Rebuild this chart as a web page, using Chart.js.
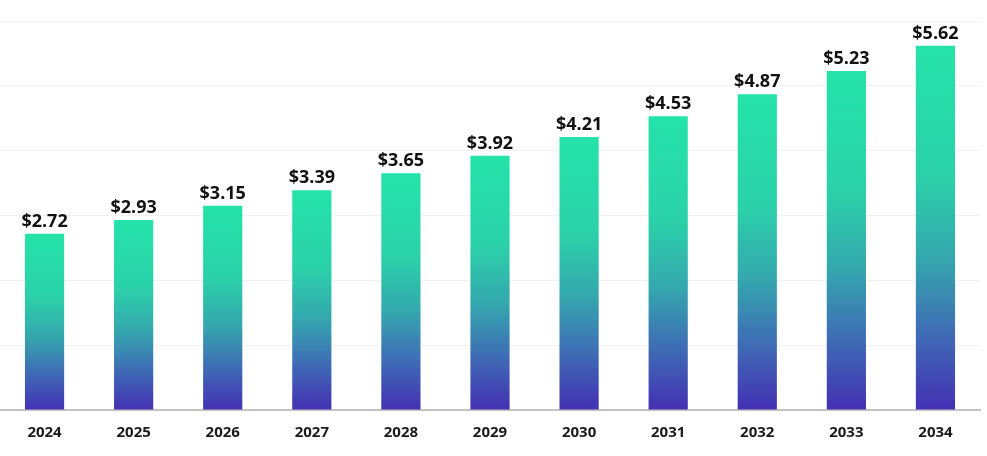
<!DOCTYPE html>
<html>
<head>
<meta charset="utf-8">
<script src="https://cdn.jsdelivr.net/npm/chart.js@4/dist/chart.umd.min.js"></script>
<style>
  html, body { margin:0; padding:0; background:#fff; }
  #wrap { width:987px; height:456px; position:relative; }
</style>
</head>
<body>
<div id="wrap"><canvas id="chart"></canvas></div>
<script>
// Chart data
const years = ['2024','2025','2026','2027','2028','2029','2030','2031','2032','2033','2034'];
const values = [2.72, 2.93, 3.15, 3.39, 3.65, 3.92, 4.21, 4.53, 4.87, 5.23, 5.62];
const yMin = 0, yMax = 6, yStep = 1;

const FONT = "'Open Sans', 'Noto Sans', sans-serif";

// gradient per bar, from its top down to the baseline
function barGradient(ctx){
  const chart = ctx.chart;
  const area = chart.chartArea;
  if(!area || ctx.type !== 'data') return '#25e0a8';
  const y = chart.scales.y;
  const top = y.getPixelForValue(ctx.raw);
  const bottom = y.getPixelForValue(0);
  const g = chart.ctx.createLinearGradient(0, top, 0, bottom);
  g.addColorStop(0, '#24e3a9');
  g.addColorStop(0.35, '#2bd2a9');
  g.addColorStop(0.58, '#34a8ae');
  g.addColorStop(0.78, '#3e6fb5');
  g.addColorStop(1, '#4430b3');
  return g;
}

const valueLabels = {
  id: 'valueLabels',
  afterDatasetsDraw(chart){
    const c = chart.ctx;
    const meta = chart.getDatasetMeta(0);
    c.save();
    c.font = `bold 18px ${FONT}`;
    c.fillStyle = '#111';
    c.textAlign = 'center';
    c.textBaseline = 'alphabetic';
    meta.data.forEach((bar, i) => {
      c.fillText('$' + values[i].toFixed(2), bar.x, bar.y - 7);
    });
    c.restore();
  }
};

new Chart(document.getElementById('chart'), {
  type: 'bar',
  data: {
    labels: years,
    datasets: [{
      data: values,
      backgroundColor: barGradient,
      borderWidth: 0,
      categoryPercentage: 1,
      barPercentage: 0.44
    }]
  },
  options: {
    responsive: true,
    maintainAspectRatio: false,
    animation: false,
    layout: { padding: { top: 21, right: 7, bottom: 0, left: 0 } },
    plugins: { legend: { display: false }, tooltip: { enabled: false } },
    scales: {
      x: {
        grid: { display: false, drawTicks: false },
        border: { display: true, color: '#c4c4c4', width: 2 },
        ticks: { color: '#1a1a1a', padding: 14, font: { family: FONT, size: 15, weight: 'bold' } }
      },
      y: {
        min: yMin, max: yMax,
        ticks: { display: false, stepSize: yStep },
        grid: { color: '#f0f0f0', lineWidth: 1, drawTicks: false },
        border: { display: false }
      }
    }
  },
  plugins: [valueLabels]
});
</script>
</body>
</html>
